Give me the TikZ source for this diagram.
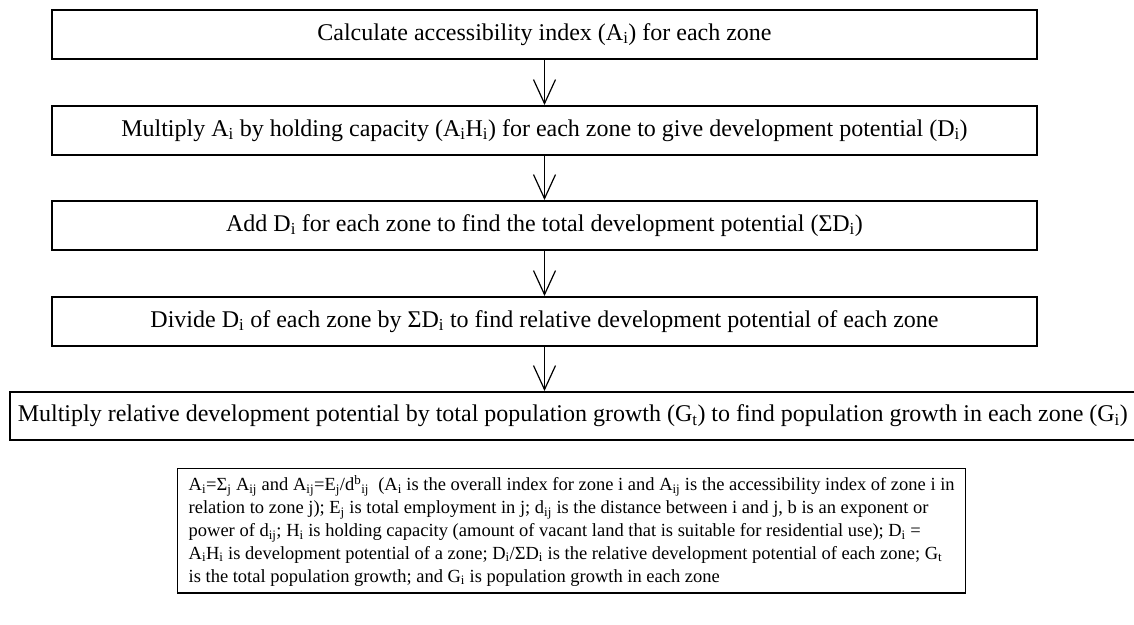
\documentclass[tikz,border=0pt]{standalone}
\usepackage{fontspec}
\setmainfont{Liberation Serif}
\usetikzlibrary{arrows.meta}
\begin{document}
\begin{tikzpicture}[x=1pt,y=-1pt,
  font=\fontsize{24}{26.5}\selectfont,
  stepbox/.style={draw, line width=1.6pt, minimum width=985pt, minimum height=49pt, inner sep=0pt, anchor=north},
  lastbox/.style={draw, line width=1.6pt, minimum height=48pt, inner xsep=8pt, inner ysep=0pt, anchor=north west},
  notebox/.style={draw, line width=1.3pt, align=left, inner xsep=11pt, inner ysep=7pt, anchor=north west, font=\fontsize{18.5}{22.8}\selectfont},
  flow/.style={line width=1.2pt, -{Straight Barb[length=24pt,width=22pt,line width=1.2pt]}}]
\clip (0,0) rectangle (1134,624);
\node[stepbox] (s1) at (544.5,9) {Calculate accessibility index (A\textsubscript{i}) for each zone};
\node[stepbox] (s2) at (544.5,105) {Multiply A\textsubscript{i} by holding capacity (A\textsubscript{i}H\textsubscript{i}) for each zone to give development potential (D\textsubscript{i})};
\node[stepbox] (s3) at (544.5,200) {Add D\textsubscript{i} for each zone to find the total development potential (ΣD\textsubscript{i})};
\node[stepbox] (s4) at (544.5,296) {Divide D\textsubscript{i} of each zone by ΣD\textsubscript{i} to find relative development potential of each zone};
\node[lastbox] (s5) at (9,391) {Multiply relative development potential by total population growth (G\textsubscript{t}) to find population growth in each zone (G\textsubscript{i})};
\node[notebox] (note) at (177,468) {A\textsubscript{i}=Σ\textsubscript{j} A\textsubscript{ij} and A\textsubscript{ij}=E\textsubscript{j}/d\textsuperscript{b}\textsubscript{ij}\ \ (A\textsubscript{i} is the overall index for zone i and A\textsubscript{ij} is the accessibility index of zone i in\\
relation to zone j); E\textsubscript{j} is total employment in j; d\textsubscript{ij} is the distance between i and j, b is an exponent or\\
power of d\textsubscript{ij}; H\textsubscript{i} is holding capacity (amount of vacant land that is suitable for residential use); D\textsubscript{i} =\\
A\textsubscript{i}H\textsubscript{i} is development potential of a zone; D\textsubscript{i}/ΣD\textsubscript{i} is the relative development potential of each zone; G\textsubscript{t}\\
is the total population growth; and G\textsubscript{i} is population growth in each zone};
\draw[flow] (s1.south) -- (s2.north);
\draw[flow] (s2.south) -- (s3.north);
\draw[flow] (s3.south) -- (s4.north);
\draw[flow] (s4.south) -- (s4.south |- s5.north);
\end{tikzpicture}
\end{document}
